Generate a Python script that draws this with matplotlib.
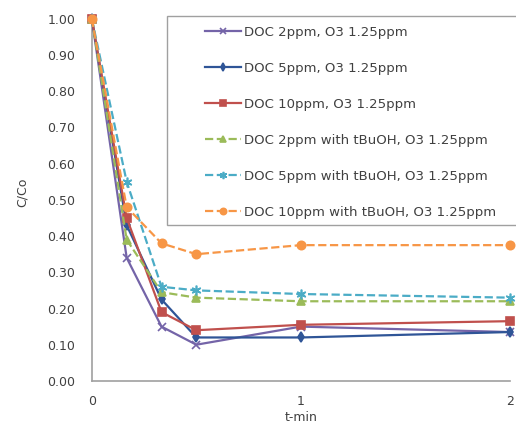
import numpy as np
import matplotlib
matplotlib.use('Agg')
import matplotlib.pyplot as plt
from matplotlib.patches import Rectangle

plt.rcParams['font.family'] = ['DejaVu Sans']

t = [0, 1/6, 1/3, 0.5, 1, 2]
doc2 = [1.00, 0.34, 0.15, 0.10, 0.15, 0.135]
doc5 = [1.00, 0.43, 0.225, 0.12, 0.12, 0.135]
doc10 = [1.00, 0.45, 0.19, 0.14, 0.155, 0.165]
doc2_tb = [1.00, 0.39, 0.245, 0.23, 0.22, 0.22]
doc5_tb = [1.00, 0.55, 0.26, 0.25, 0.24, 0.23]
doc10_tb = [1.00, 0.48, 0.38, 0.35, 0.375, 0.375]

labels = ['DOC 2ppm, O3 1.25ppm', 'DOC 5ppm, O3 1.25ppm', 'DOC 10ppm, O3 1.25ppm',
          'DOC 2ppm with tBuOH, O3 1.25ppm', 'DOC 5ppm with tBuOH, O3 1.25ppm',
          'DOC 10ppm with tBuOH, O3 1.25ppm']
yticks = np.arange(0, 1.01, 0.1)

fig = plt.figure(figsize=(5.16, 4.28), dpi=100)
ax = fig.add_axes([0.178, 0.110, 0.81, 0.846])

series = [doc2, doc5, doc10, doc2_tb, doc5_tb, doc10_tb]
colors = ['#7464A8', '#2F5597', '#C0504D', '#9BBB59', '#4BACC6', '#F79646']
markers = ['x', 'd', 's', '^', (6, 2, 0), 'o']
sizes = [6, 5, 6, 6, 7, 6]
styles = ['-', '-', '-', '--', '--', '--']

for y, c, m, ms, ls, lab in zip(series, colors, markers, sizes, styles, labels):
    ax.plot(t, y, color=c, marker=m, markersize=ms, linestyle=ls, linewidth=1.6,
            markeredgewidth=1.2, label=lab, clip_on=False, zorder=3)

ax.set_xlim(0, 2)
ax.set_ylim(0, 1.0)
ax.set_xticks([0, 1, 2])
ax.set_yticks(yticks)
ax.set_yticklabels(['%.2f' % v for v in yticks])
ax.tick_params(length=0, labelsize=9, colors='#404040')
ax.tick_params(axis='y', pad=12)
ax.tick_params(axis='x', pad=10)
for s in ['top', 'right']:
    ax.spines[s].set_visible(False)
for s in ['left', 'bottom']:
    ax.spines[s].set_color('#A0A0A0')
    ax.spines[s].set_linewidth(1.2)

ax.set_xlabel('t-min', fontsize=9, color='#404040')
ax.set_ylabel('C/Co', fontsize=9, color='#404040')
ax.xaxis.set_label_coords(0.5, -0.083)
ax.yaxis.set_label_coords(-0.15, 0.52)

# legend frame runs off the right edge like in the original
fig.patches.append(Rectangle((167/516, 1 - 225/428), 0.7, (225 - 16)/428,
                             transform=fig.transFigure, facecolor='white',
                             edgecolor='#A0A0A0', linewidth=1.0, zorder=4))
handles, labs = ax.get_legend_handles_labels()
leg = fig.legend(handles, labs, loc='upper left', bbox_to_anchor=(205/516, 1 - 26/428),
                 bbox_transform=fig.transFigure, fontsize=9.5, labelspacing=1.74,
                 handlelength=2.7, handletextpad=0.25, borderpad=0,
                 borderaxespad=0, frameon=False, markerscale=0.75)
leg.set_zorder(5)
for txt in leg.get_texts():
    txt.set_color('#404040')

fig.savefig('out.png', dpi=100)
